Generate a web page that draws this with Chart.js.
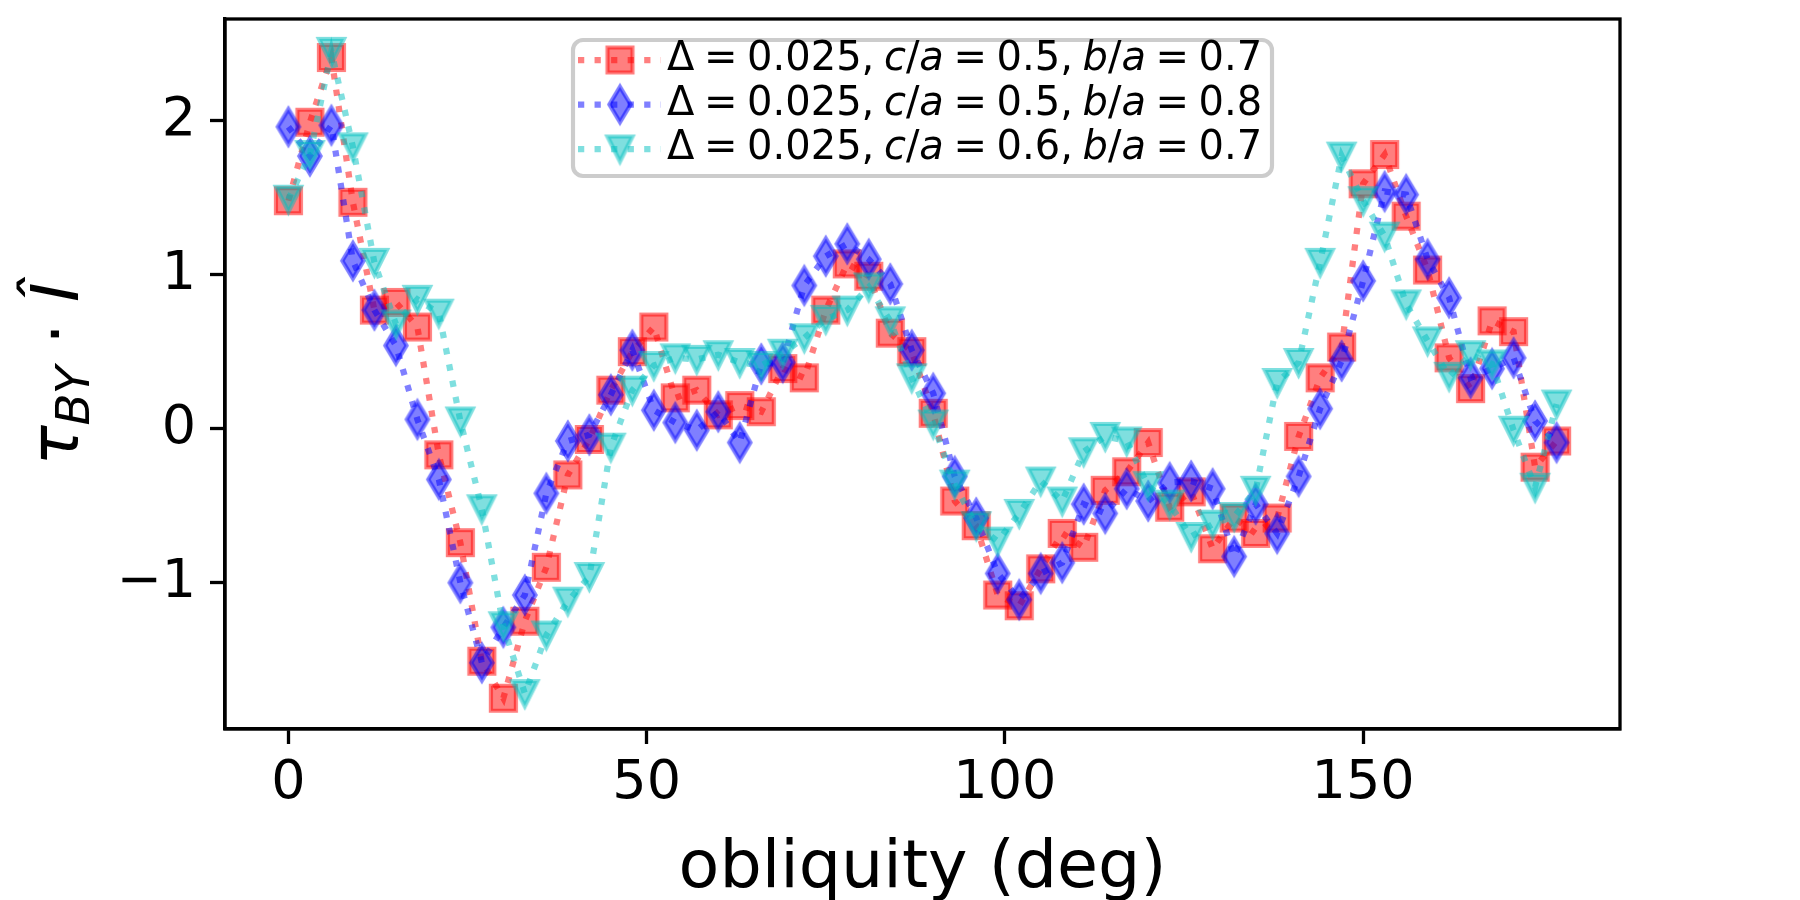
<!DOCTYPE html>
<html>
<head>
<meta charset="utf-8">
<script src="https://cdn.jsdelivr.net/npm/chart.js@4.4.1/dist/chart.umd.min.js"></script>
<style>
    html, body { margin: 0; padding: 0; background: #fff; }
    #wrap { width: 1800px; height: 900px; }
</style>
</head>
<body>
<div id="wrap"><canvas id="myChart" width="1800" height="900"></canvas></div>
<script>
// DATA

var obliquity = [0, 3, 6, 9, 12, 15, 18, 21, 24, 27, 30, 33, 36, 39, 42, 45, 48, 51, 54, 57,
    60, 63, 66, 69, 72, 75, 78, 81, 84, 87, 90, 93, 96, 99, 102, 105, 108, 111, 114, 117,
    120, 123, 126, 129, 132, 135, 138, 141, 144, 147, 150, 153, 156, 159, 162, 165, 168, 171, 174, 177];

// c/a = 0.5, b/a = 0.7
var torqueA = [1.48, 1.99, 2.41, 1.47, 0.77, 0.82, 0.66, -0.17, -0.74, -1.51,
    -1.75, -1.25, -0.90, -0.30, -0.07, 0.25, 0.50, 0.66, 0.20, 0.25,
    0.09, 0.15, 0.11, 0.39, 0.33, 0.77, 1.07, 0.99, 0.62, 0.50,
    0.10, -0.47, -0.63, -1.08, -1.15, -0.91, -0.68, -0.77, -0.40, -0.28,
    -0.09, -0.51, -0.41, -0.78, -0.58, -0.68, -0.58, -0.05, 0.33, 0.53,
    1.59, 1.78, 1.38, 1.03, 0.46, 0.26, 0.70, 0.63, -0.25, -0.08];

// c/a = 0.5, b/a = 0.8
var torqueB = [1.96, 1.77, 1.97, 1.09, 0.77, 0.54, 0.06, -0.33, -1.00, -1.52,
    -1.29, -1.08, -0.42, -0.08, -0.04, 0.22, 0.51, 0.12, 0.04, -0.01,
    0.11, -0.09, 0.42, 0.43, 0.93, 1.12, 1.20, 1.10, 0.94, 0.51,
    0.23, -0.31, -0.58, -0.94, -1.11, -0.94, -0.87, -0.49, -0.55, -0.39,
    -0.47, -0.35, -0.34, -0.39, -0.83, -0.49, -0.68, -0.31, 0.13, 0.44,
    0.96, 1.54, 1.52, 1.10, 0.85, 0.33, 0.39, 0.46, 0.05, -0.09];

// c/a = 0.6, b/a = 0.7
var torqueC = [1.49, 1.78, 2.45, 1.83, 1.08, 0.68, 0.84, 0.75, 0.05, -0.52,
    -1.28, -1.72, -1.34, -1.12, -0.96, -0.12, 0.25, 0.41, 0.46, 0.45,
    0.48, 0.43, 0.41, 0.49, 0.59, 0.71, 0.77, 0.92, 0.70, 0.33,
    0.03, -0.36, -0.63, -0.73, -0.55, -0.34, -0.47, -0.15, -0.05, -0.08,
    -0.37, -0.49, -0.70, -0.62, -0.57, -0.40, 0.30, 0.43, 1.08, 1.77,
    1.48, 1.25, 0.81, 0.57, 0.34, 0.48, 0.42, -0.01, -0.38, 0.16];

var seriesLabels = ['Δ = 0.025, c/a = 0.5, b/a = 0.7',
    'Δ = 0.025, c/a = 0.5, b/a = 0.8',
    'Δ = 0.025, c/a = 0.6, b/a = 0.7'];

var xTicks = [0, 50, 100, 150];
var yTicks = [-1, 0, 1, 2];

// MARKERS (matplotlib-like, ms = 6pt at 300 dpi)

function makeMarker(kind, rgb) {
    var ms = 25, ew = 4.17, pad = 8;
    var w = ms, h = ms;
    if (kind === 'thinDiamond') { w = 0.849 * ms; h = 1.414 * ms; }
    var c = document.createElement('canvas');
    c.width = Math.ceil(w + 2 * pad);
    c.height = Math.ceil(h + 2 * pad);
    var g = c.getContext('2d');
    var cx = c.width / 2, cy = c.height / 2;
    g.beginPath();
    if (kind === 'square') {
        g.rect(cx - w / 2, cy - h / 2, w, h);
    } else if (kind === 'thinDiamond') {
        g.moveTo(cx, cy - h / 2);
        g.lineTo(cx + w / 2, cy);
        g.lineTo(cx, cy + h / 2);
        g.lineTo(cx - w / 2, cy);
        g.closePath();
    } else {
        g.moveTo(cx - w / 2, cy - h / 2);
        g.lineTo(cx + w / 2, cy - h / 2);
        g.lineTo(cx, cy + h / 2);
        g.closePath();
    }
    g.fillStyle = 'rgba(' + rgb + ',0.5)';
    g.fill();
    g.lineJoin = 'miter';
    g.lineWidth = ew;
    g.strokeStyle = 'rgba(' + rgb + ',0.5)';
    g.stroke();
    return c;
}

var red = '255,0,0', blue = '0,0,255', cyan = '0,191,191';

function series(label, values, rgb, marker, order) {
    return {
        label: label,
        data: obliquity.map(function (x, i) { return { x: x, y: values[i] }; }),
        borderColor: 'rgba(' + rgb + ',0.5)',
        borderWidth: 6.25,
        borderDash: [6.25, 10.3],
        borderCapStyle: 'butt',
        pointStyle: makeMarker(marker, rgb),
        pointRadius: 12,
        tension: 0,
        fill: false,
        order: order
    };
}

// mixed upright / italic text, letters italic like mathtext
function mathRun(ctx, text, size, spaceEm) {
    var runs = [];
    for (var k = 0; k < text.length; k++) {
        var ch = text[k];
        var font = (/[a-z]/.test(ch) ? 'italic ' : '') + size + 'px "DejaVu Sans"';
        ctx.font = font;
        var w = ch === ' ' ? size * spaceEm : ctx.measureText(ch).width;
        runs.push({ ch: ch, font: font, w: w });
    }
    return runs;
}

// LEGEND

var legendPlugin = {
    id: 'boxLegend',
    afterDraw: function (chart) {
        var ctx = chart.ctx;
        var bx = 573, by = 40, bw = 699, bh = 136, r = 10;
        ctx.save();
        ctx.beginPath();
        ctx.moveTo(bx + r, by);
        ctx.arcTo(bx + bw, by, bx + bw, by + bh, r);
        ctx.arcTo(bx + bw, by + bh, bx, by + bh, r);
        ctx.arcTo(bx, by + bh, bx, by, r);
        ctx.arcTo(bx, by, bx + bw, by, r);
        ctx.closePath();
        ctx.fillStyle = 'rgba(255,255,255,0.8)';
        ctx.fill();
        ctx.lineWidth = 4.17;
        ctx.strokeStyle = '#cccccc';
        ctx.stroke();

        chart.data.datasets.forEach(function (ds, i) {
            var cy = 60 + i * 44.5;
            ctx.setLineDash(ds.borderDash);
            ctx.lineCap = 'butt';
            ctx.lineWidth = ds.borderWidth;
            ctx.strokeStyle = ds.borderColor;
            ctx.beginPath();
            ctx.moveTo(578, cy);
            ctx.lineTo(661, cy);
            ctx.stroke();
            ctx.setLineDash([]);
            var m = ds.pointStyle;
            ctx.drawImage(m, 620 - m.width / 2, cy - m.height / 2);

            var runs = mathRun(ctx, ds.label, 40, 0.24);
            var x = 667;
            ctx.fillStyle = '#000';
            ctx.textBaseline = 'middle';
            ctx.textAlign = 'left';
            runs.forEach(function (rn) {
                if (rn.ch !== ' ') {
                    ctx.font = rn.font;
                    ctx.fillText(rn.ch, x, cy);
                }
                x += rn.w;
            });
        });
        ctx.restore();
    }
};

// Y TITLE (tau_BY . I-hat)

var yTitlePlugin = {
    id: 'yTitle',
    afterDraw: function (chart) {
        var ctx = chart.ctx;
        var a = chart.chartArea;
        var parts = [
            { t: 'τ', font: 'italic 66.7px "DejaVu Sans"', dy: 0 },
            { t: 'BY', font: 'italic 46.7px "DejaVu Sans"', dy: 11 },
            { t: ' · ', font: '66.7px "DejaVu Sans"', dy: 0 },
            { t: 'Î', font: 'italic 66.7px "DejaVu Sans"', dy: 0 }
        ];
        ctx.save();
        var total = 0;
        parts.forEach(function (p) {
            ctx.font = p.font;
            p.w = ctx.measureText(p.t).width;
            total += p.w;
        });
        ctx.translate(78, (a.top + a.bottom) / 2);
        ctx.rotate(-Math.PI / 2);
        ctx.fillStyle = '#000';
        ctx.textBaseline = 'alphabetic';
        ctx.textAlign = 'left';
        var x = -total / 2;
        parts.forEach(function (p) {
            ctx.font = p.font;
            ctx.fillText(p.t, x, p.dy);
            x += p.w;
        });
        ctx.restore();
    }
};

// FRAME (top and right spines)

var framePlugin = {
    id: 'frame',
    afterDatasetsDraw: function (chart) {
        var ctx = chart.ctx;
        var a = chart.chartArea;
        ctx.save();
        ctx.lineWidth = 3.3;
        ctx.strokeStyle = '#000';
        ctx.strokeRect(a.left, a.top, a.right - a.left, a.bottom - a.top);
        ctx.restore();
    }
};

var tickFont = { family: 'DejaVu Sans', size: 54 };

var canvas = document.getElementById('myChart');
var ctx = canvas.getContext('2d');

var chart = new Chart(ctx, {
    type: 'line',
    data: {
        datasets: [
            series(seriesLabels[0], torqueA, red, 'square', 3),
            series(seriesLabels[1], torqueB, blue, 'thinDiamond', 2),
            series(seriesLabels[2], torqueC, cyan, 'triangleDown', 1)
        ]
    },
    options: {
        responsive: false,
        devicePixelRatio: 1,
        animation: false,
        events: [],
        layout: { padding: { left: 0, right: 180, top: 19, bottom: 0 } },
        plugins: {
            legend: { display: false },
            tooltip: { enabled: false }
        },
        scales: {
            x: {
                type: 'linear',
                min: -8.85,
                max: 185.85,
                afterBuildTicks: function (scale) {
                    scale.ticks = xTicks.map(function (v) { return { value: v }; });
                },
                afterFit: function (scale) {
                    scale.height = 171;
                    scale.paddingLeft = 0;
                    scale.paddingRight = 0;
                },
                grid: { drawOnChartArea: false, drawTicks: true, tickLength: 15, tickWidth: 3.3, tickColor: '#000' },
                border: { display: true, color: '#000', width: 3.3 },
                ticks: { color: '#000', font: tickFont, padding: 8, maxRotation: 0, autoSkip: false },
                title: {
                    display: true,
                    text: 'obliquity (deg)',
                    color: '#000',
                    font: { family: 'DejaVu Sans', size: 66.7, lineHeight: 0.6 },
                    padding: { top: 0, bottom: 10 }
                }
            },
            y: {
                type: 'linear',
                min: -1.95,
                max: 2.66,
                afterBuildTicks: function (scale) {
                    scale.ticks = yTicks.map(function (v) { return { value: v }; });
                },
                afterFit: function (scale) {
                    scale.width = 225;
                    scale.paddingTop = 0;
                    scale.paddingBottom = 0;
                },
                grid: { drawOnChartArea: false, drawTicks: true, tickLength: 15, tickWidth: 3.3, tickColor: '#000' },
                border: { display: true, color: '#000', width: 3.3 },
                ticks: {
                    color: '#000',
                    font: tickFont,
                    padding: 14,
                    callback: function (v) { return String(v).replace('-', '\u2212'); }
                }
            }
        }
    },
    plugins: [framePlugin, legendPlugin, yTitlePlugin]
});
</script>
</body>
</html>
